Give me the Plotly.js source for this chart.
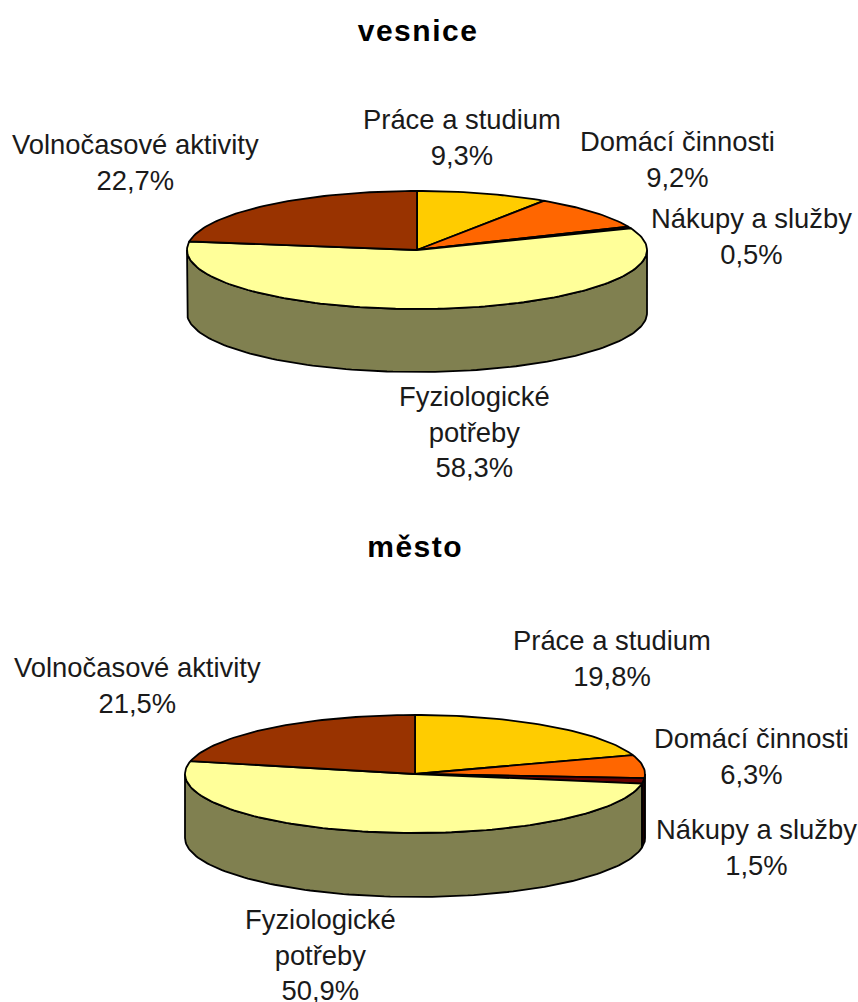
<!DOCTYPE html>
<html><head><meta charset="utf-8">
<script src="https://cdn.plot.ly/plotly-3.0.1.min.js"></script>
<style>html,body{margin:0;padding:0;background:#fff}#c{width:858px;height:1002px}</style>
</head><body><div id="c"></div>
<script>
// ---- data ----
const categories = ["Práce a studium","Domácí činnosti","Nákupy a služby","Fyziologické<br>potřeby","Volnočasové aktivity"];
const vesnice = [9.3, 9.2, 0.5, 58.3, 22.7];
const mesto   = [19.8, 6.3, 1.5, 50.9, 21.5];
const topColors  = ["#FFCC00","#FF6600","#660000","#FFFF99","#993300"];
const sideColors = ["#7F6600","#7F3300","#330000","#808050","#4C1900"];
// ---- layout of the two pies ----
const FONT = "Liberation Sans, Arial, sans-serif";
const pies = [
  {name:"vesnice", values:vesnice, cx:417, cy:250, rx:230, ry:59, depth:63, titleAt:[418,30],
   labelAt:[[462,137],[677,159],[751,236],[474,432],[135,162]]},
  {name:"město", values:mesto, cx:415, cy:774, rx:230, ry:59, depth:64, titleAt:[415,546],
   labelAt:[[612,658],[751,756],[756,847],[320,955],[137,685]]}
];
const traces = [], annotations = [];
function pt(p,deg,dy){const r=deg*Math.PI/180;return [p.cx+p.rx*Math.sin(r), p.cy-p.ry*Math.cos(r)+(dy||0)];}
function arc(p,a,b,dy){const out=[],n=Math.max(2,Math.ceil(Math.abs(b-a)/1.5));
  for(let i=0;i<=n;i++)out.push(pt(p,a+(b-a)*i/n,dy));return out;}
function poly(points,color,name){traces.push({type:"scatter",mode:"lines",x:points.map(q=>q[0]),y:points.map(q=>q[1]),
  fill:"toself",fillcolor:color,line:{color:"#000",width:1.8},name:name,hoverinfo:"name"});}
pies.forEach(p=>{
  let c=0;const spans=p.values.map(v=>{const s=[c*3.6,(c+v)*3.6];c+=v;return s;});
  spans.forEach((s,i)=>{ // visible side wall: front half of the ellipse
    const a=Math.max(s[0],90),b=Math.min(s[1],270);
    if(b>a){poly(arc(p,a,b,0).concat(arc(p,b,a,p.depth)).concat([pt(p,a,0)]),sideColors[i],categories[i].replace("<br>"," "));}
  });
  spans.forEach((s,i)=>{
    poly([[p.cx,p.cy]].concat(arc(p,s[0],s[1],0)).concat([[p.cx,p.cy]]),topColors[i],categories[i].replace("<br>"," "));
  });
  annotations.push({x:p.titleAt[0],y:p.titleAt[1],xref:"x",yref:"y",text:"<b>"+p.name+"</b>",showarrow:false,
    xanchor:"center",yanchor:"middle",font:{family:FONT,size:30,color:"#000"},name:"title"});
  categories.forEach((lab,i)=>{
    annotations.push({x:p.labelAt[i][0],y:p.labelAt[i][1],xref:"x",yref:"y",
      text:lab+"<br>"+p.values[i].toFixed(1).replace(".",",")+"%",showarrow:false,
      xanchor:"center",yanchor:"middle",align:"center",font:{family:FONT,size:27.4,color:"#1a1a1a"}});
  });
});
const layout = {width:858,height:1002,margin:{l:0,r:0,t:0,b:0},paper_bgcolor:"#fff",plot_bgcolor:"#fff",showlegend:false,
  xaxis:{range:[0,858],visible:false,fixedrange:true},
  yaxis:{range:[1002,0],visible:false,fixedrange:true},
  annotations:annotations};
Plotly.newPlot("c",traces,layout,{displayModeBar:false,staticPlot:true}).then(gd=>{
  gd.querySelectorAll(".annotation-text").forEach(t=>{
    if(t.textContent==="vesnice"||t.textContent==="město"){t.style.letterSpacing="1.5px";}
  });
});
</script></body></html>
